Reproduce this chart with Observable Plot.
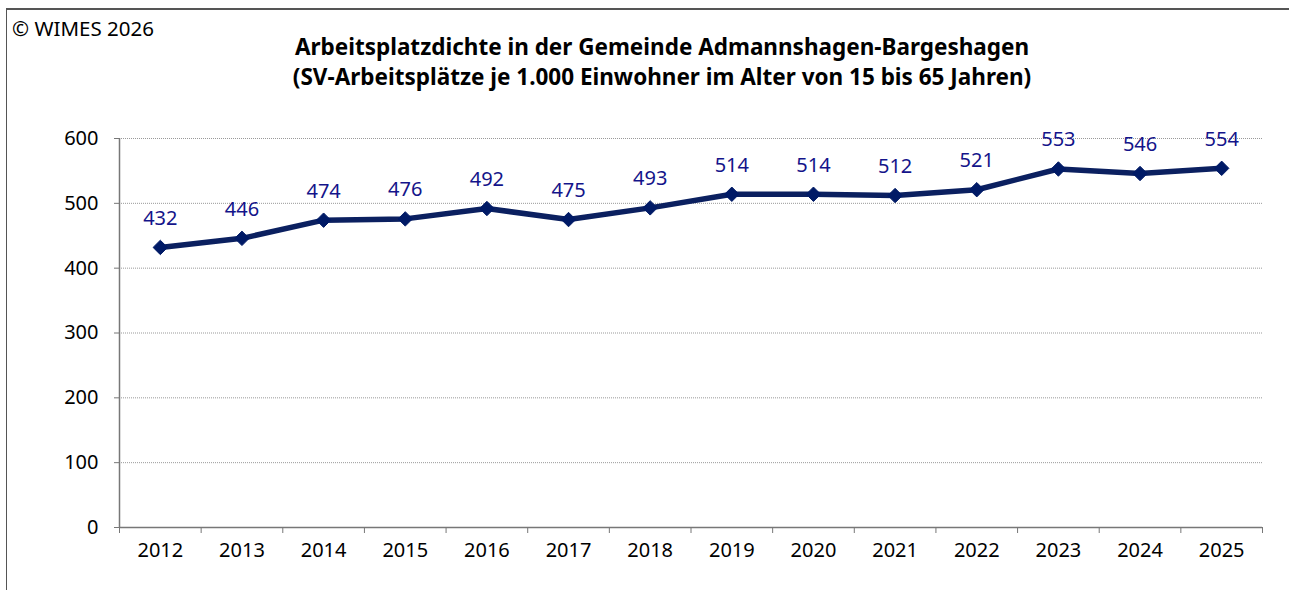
<!DOCTYPE html>
<html>
<head>
<meta charset="utf-8">
<script src="https://cdn.jsdelivr.net/npm/d3@7"></script>
<script src="https://cdn.jsdelivr.net/npm/@observablehq/plot@0.6"></script>
<style>
  html, body { margin: 0; padding: 0; background: #fff; }
  #wrap { position: relative; width: 1289px; height: 590px; overflow: hidden; font-family: "Noto Sans", sans-serif; }
  #frame { position: absolute; left: 6px; top: 8px; width: 1300px; height: 600px; border-left: 1.5px solid #555; border-top: 2px solid #555; box-sizing: border-box; }
  #copy { position: absolute; left: 12px; top: 14px; font-size: 20.5px; line-height: 28px; color: #000; }
  #title { position: absolute; left: 0; width: 1324px; top: 32px; text-align: center; font-size: 22.5px; font-weight: bold; line-height: 30px; color: #000; }
  #chart { position: absolute; left: 0; top: 0; }
</style>
</head>
<body>
<div id="wrap">
  <div id="chart"></div>
  <div id="frame"></div>
  <div id="copy">© WIMES 2026</div>
  <div id="title">Arbeitsplatzdichte in der Gemeinde Admannshagen-Bargeshagen<br>(SV-Arbeitsplätze je 1.000 Einwohner im Alter von 15 bis 65 Jahren)</div>
</div>
<script>
const years = [2012, 2013, 2014, 2015, 2016, 2017, 2018, 2019, 2020, 2021, 2022, 2023, 2024, 2025];
const values = [432, 446, 474, 476, 492, 475, 493, 514, 514, 512, 521, 553, 546, 554];
const yTicks = [0, 100, 200, 300, 400, 500, 600];

const data = years.map((year, i) => ({year, value: values[i]}));
const boundaries = years.map(y => y - 0.5).concat([years[years.length - 1] + 0.5]);

const font = "Noto Sans, sans-serif";

const chart = Plot.plot({
  width: 1289,
  height: 590,
  marginLeft: 119,
  marginRight: 27,
  marginTop: 138,
  marginBottom: 63,
  style: { fontFamily: font, background: "transparent" },
  x: { type: "linear", domain: [boundaries[0], boundaries[boundaries.length - 1]] },
  y: { domain: [0, 600] },
  marks: [
    Plot.gridY(yTicks.filter(d => d > 0), { stroke: "#999", strokeOpacity: 1, strokeDasharray: "1,1", strokeWidth: 1 }),
    Plot.axisY(yTicks, { tickSize: 5, tickPadding: 16, fontSize: 20, stroke: "#777", color: "#000", label: null, tickFormat: d => String(d) }),
    Plot.axisX(boundaries, { tickSize: 6, tickFormat: () => "", stroke: "#777", label: null }),
    Plot.axisX(years, { tickSize: 0, tickPadding: 15, fontSize: 20, tickFormat: d => String(d), label: null, color: "#000" }),
    Plot.ruleY([0], { stroke: "#777", strokeWidth: 1.5 }),
    Plot.ruleX([boundaries[0]], { stroke: "#777", strokeWidth: 1.5 }),
    Plot.line(data, { x: "year", y: "value", stroke: "#0b2060", strokeWidth: 5.5, strokeLinejoin: "round" }),
    Plot.dot(data, { x: "year", y: "value", symbol: "diamond2", r: 6.5, fill: "#001a66", stroke: "#001a66", strokeWidth: 1 }),
    Plot.text(data, { x: "year", y: "value", text: d => String(d.value), dy: -29, fontSize: 20, fill: "#14148a" })
  ]
});
document.getElementById("chart").appendChild(chart);
</script>
</body>
</html>
